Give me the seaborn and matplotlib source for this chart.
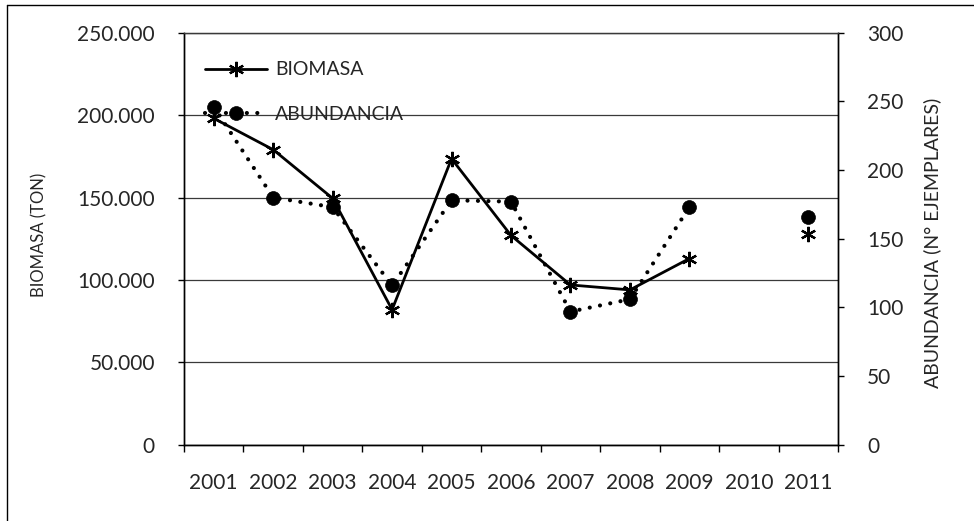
import numpy as np
import pandas as pd
import matplotlib
matplotlib.use("Agg")
import matplotlib.pyplot as plt
from matplotlib.lines import Line2D
from matplotlib.ticker import FuncFormatter, MultipleLocator, FixedLocator
import seaborn as sns

# values (2010 has no data)
years = ["2001", "2002", "2003", "2004", "2005", "2006",
         "2007", "2008", "2009", "2010", "2011"]
biomasa_ton = [198000, 179000, 149500, 82000, 173500, 127000,
               97000, 94000, 113000, np.nan, 128000]
abundancia_n = [246, 180, 173, 116, 178, 177,
                97, 106, 173, np.nan, 166]

sns.set_theme(style="white")
plt.rcParams["font.family"] = ["Lato", "DejaVu Sans"]

df = pd.DataFrame({
    "pos": np.arange(len(years)),
    "year": years,
    "biomasa": biomasa_ton,
    "abundancia": abundancia_n,
})
# split into runs so the gap at 2010 is not bridged
df["seg"] = df["biomasa"].isna().cumsum()
df = df.dropna()

fig = plt.figure(figsize=(9.74, 5.21), dpi=100)
ax = fig.add_axes([0.1889, 0.1459, 0.6715, 0.7917])
ax2 = ax.twinx()

sns.lineplot(data=df, x="pos", y="biomasa", units="seg", estimator=None,
             color="black", linewidth=2, marker=(6, 2, 0), markersize=11,
             markeredgewidth=1.6, markeredgecolor="black", legend=False, ax=ax)
sns.lineplot(data=df, x="pos", y="abundancia", units="seg", estimator=None,
             color="black", linewidth=3, linestyle=(0, (0.01, 2.5)),
             dash_capstyle="round", marker="o", markersize=10,
             markeredgewidth=0.5, markeredgecolor="black", legend=False, ax=ax2)

# x axis: category boundaries as ticks, year labels centred
ax.set_xlim(-0.5, len(years) - 0.5)
ax.xaxis.set_major_locator(FixedLocator(np.arange(-0.5, len(years), 1)))
ax.xaxis.set_major_formatter(FuncFormatter(lambda v, p: ""))
ax.set_xticks(np.arange(len(years)), minor=True)
ax.set_xticklabels(years, minor=True)
ax.tick_params(axis="x", which="major", length=5, width=1, color="black", direction="out", bottom=True)
ax.tick_params(axis="x", which="minor", length=0, pad=20, labelsize=15, bottom=True)
ax.set_xlabel("")

# left axis
ax.set_ylim(0, 250000)
ax.yaxis.set_major_locator(MultipleLocator(50000))
ax.yaxis.set_major_formatter(FuncFormatter(lambda v, p: f"{v:,.0f}".replace(",", ".")))
ax.tick_params(axis="y", length=4, width=1, color="black", direction="out", pad=17, labelsize=15, left=True)
ax.grid(axis="y", color="#3a3a3a", linewidth=0.9)
ax.set_ylabel("BIOMASA (TON)", fontsize=12)
ax.yaxis.set_label_coords(-0.2095, 0.509)

# right axis
ax2.set_ylim(0, 300)
ax2.yaxis.set_major_locator(MultipleLocator(50))
ax2.tick_params(axis="y", length=4, width=1, color="black", direction="out", pad=17, labelsize=15, right=True)
ax2.grid(False)
ax2.set_ylabel("ABUNDANCIA (N° EJEMPLARES)", fontsize=14)
ax2.yaxis.set_label_coords(1.131, 0.49)

for a in (ax, ax2):
    for side in ("left", "right", "bottom"):
        a.spines[side].set_color("black")
        a.spines[side].set_linewidth(1)
    a.spines["top"].set_color("#3a3a3a")
    a.spines["top"].set_linewidth(0.9)

ax2.legend([ax.lines[0], ax2.lines[0]], ["BIOMASA", "ABUNDANCIA"],
           loc="upper left", bbox_to_anchor=(0.032, 0.93), frameon=False,
           fontsize=14, handlelength=3.2, handletextpad=0.4, labelspacing=1.4,
           borderpad=0, borderaxespad=0, numpoints=1)

# chart-area border (left and top edges visible in the scan)
fig.add_artist(Line2D([7 / 974, 7 / 974], [0, 1 - 5 / 521], transform=fig.transFigure, color="black", lw=1))
fig.add_artist(Line2D([7 / 974, 1], [1 - 5 / 521, 1 - 5 / 521], transform=fig.transFigure, color="black", lw=1))

fig.savefig("out.png", dpi=100, facecolor="white")
